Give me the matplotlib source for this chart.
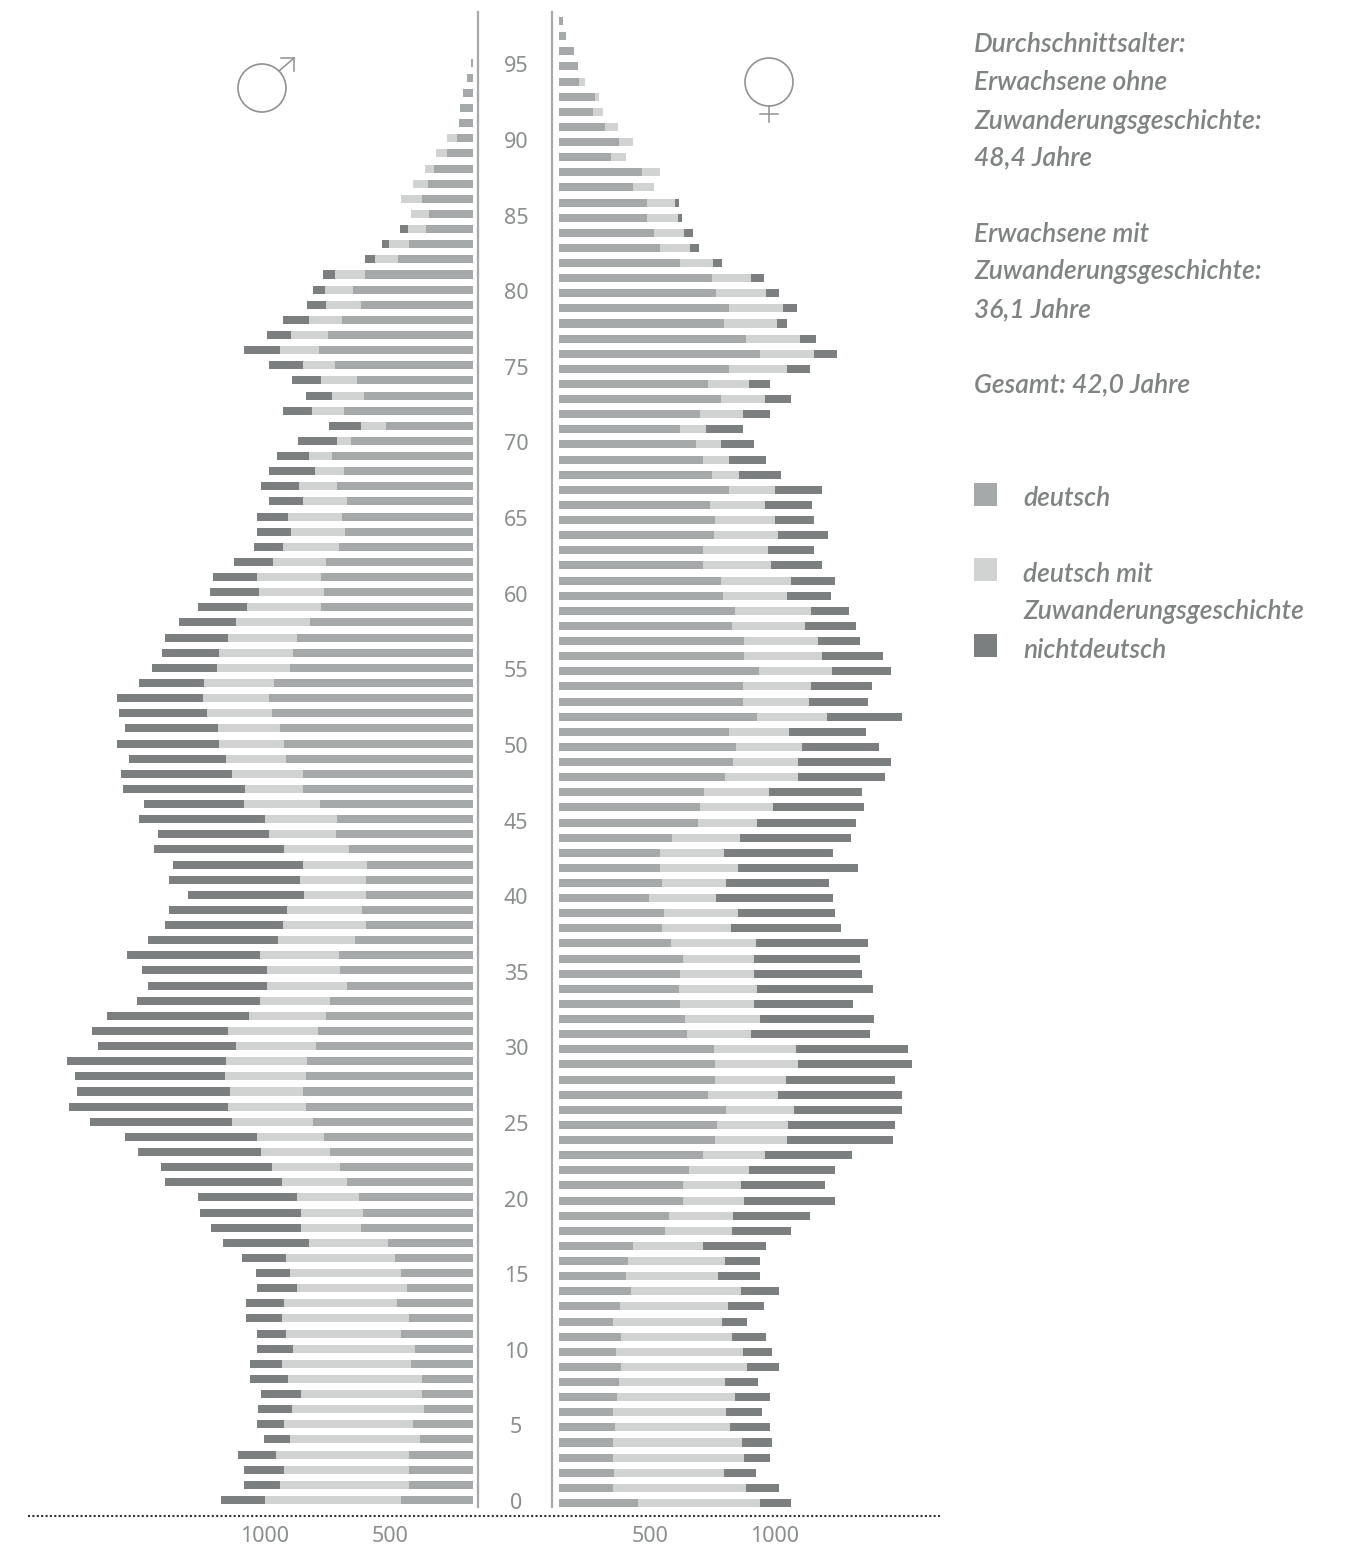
import matplotlib
matplotlib.use("Agg")
import matplotlib.pyplot as plt
from matplotlib.patches import Circle, Rectangle
from matplotlib.transforms import ScaledTranslation

W, H = 1358, 1546
plt.rcParams["font.family"] = ["Noto Sans", "DejaVu Sans"]
NOTE_FONT = ["Lato", "Noto Sans", "DejaVu Sans"]

C_DE, C_ZG, C_ND = "#a6a9a9", "#d1d3d2", "#7c7f7f"
C_TXT = "#808383"
C_TICK = "#8b8e8e"
C_AXIS = "#a6a9a9"

# Men, age 95 down to 0: deutsch / deutsch mit Zuwanderungsgeschichte / nichtdeutsch
male_ages = list(range(95, -1, -1))
male_de = [7, 23, 39, 51, 55, 63, 103, 155, 179, 203, 175, 187, 255, 299, 431, 479,
           447, 523, 579, 615, 551, 463, 435, 515, 347, 487, 563, 515, 543, 503,
           523, 511, 535, 587, 607, 595, 607, 651, 703, 719,
           731, 795, 815, 803, 771, 755, 747, 679, 679, 611,
           543, 547, 495, 423, 427, 427, 443, 427, 471, 535,
           531, 503, 571, 587, 619, 627, 663, 667, 679, 667,
           639, 595, 571, 531, 503, 455, 439, 447, 339, 311,
           287, 263, 303, 255, 287, 231, 247, 203, 203, 195,
           239, 211, 255, 255, 255, 287]
male_zg = [0, 0, 0, 0, 0, 40, 43, 36, 60, 84, 72, 72, 79, 92, 120, 112,
           140, 132, 148, 156, 128, 144, 128, 128, 100, 56, 92, 116, 152, 176,
           216, 216, 224, 212, 256, 260, 296, 296, 276, 296,
           292, 280, 264, 260, 248, 260, 240, 284, 232, 304,
           288, 268, 260, 256, 264, 248, 300, 332, 308, 316,
           292, 320, 280, 308, 360, 320, 324, 324, 292, 312,
           324, 268, 276, 272, 260, 248, 248, 240, 316, 436,
           444, 440, 452, 508, 460, 488, 516, 536, 484, 528,
           516, 520, 532, 500, 516, 544]
male_nd = [0, 0, 0, 0, 0, 0, 0, 0, 0, 0, 0, 32, 27, 41, 48, 49,
           77, 105, 97, 145, 137, 117, 104, 117, 128, 156, 128, 185, 152, 137,
           125, 137, 116, 157, 177, 197, 197, 229, 253, 229,
           261, 261, 345, 353, 373, 409, 389, 445, 489, 401,
           505, 445, 521, 521, 525, 465, 473, 473, 521, 533,
           501, 477, 493, 569, 545, 553, 637, 601, 613, 637,
           569, 529, 493, 445, 469, 397, 405, 361, 345, 177,
           137, 161, 153, 145, 117, 145, 129, 153, 160, 137,
           109, 105, 153, 161, 145, 177]

# Women, age 98 down to 0
female_ages = list(range(98, -1, -1))
female_de = [16, 28, 60, 76, 80, 144, 136, 184, 240, 208, 332, 296, 352, 352, 380, 404,
             484, 612, 628, 680, 660, 748, 804, 680, 596, 648, 564, 484, 548, 576,
             612, 680,
             604, 624, 620, 576, 576, 648, 656, 704, 692, 740,
             740, 800, 736, 736, 792, 680, 708, 696, 664, 580,
             564, 556, 452, 404, 404, 412, 360, 420, 412, 448,
             496, 484, 480, 484, 504, 512, 620, 624, 624, 596,
             668, 632, 624, 576, 520, 496, 496, 440, 424, 296,
             276, 268, 288, 244, 216, 248, 228, 248, 240, 232,
             216, 224, 216, 216, 220, 216, 316]
female_zg = [0, 0, 0, 0, 24, 16, 40, 52, 56, 60, 72, 84, 112, 124, 120, 120,
             132, 156, 200, 216, 212, 216, 216, 232, 164, 176, 172, 104, 100, 104,
             108, 184,
             220, 240, 256, 260, 272, 280, 256, 304, 292, 296,
             312, 292, 272, 264, 280, 240, 264, 260, 292, 260,
             292, 236, 272, 256, 312, 256, 268, 296, 276, 340,
             284, 296, 312, 296, 300, 256, 328, 332, 284, 280,
             272, 284, 288, 248, 240, 232, 244, 256, 268, 280,
             388, 368, 440, 432, 436, 444, 508, 504, 424, 472,
             452, 460, 516, 524, 440, 532, 488]
female_nd = [0, 0, 0, 0, 0, 0, 0, 0, 0, 0, 0, 0, 16, 16, 36, 36,
             36, 52, 52, 56, 40, 64, 92, 92, 84, 104, 108, 148, 132, 148,
             168, 188,
             188, 156, 200, 184, 204, 176, 176, 152, 204, 168,
             244, 236, 244, 236, 300, 308, 308, 372, 348, 372,
             364, 396, 444, 436, 480, 412, 468, 388, 440, 448,
             424, 432, 464, 396, 456, 476, 448, 456, 436, 496,
             432, 428, 424, 348, 344, 336, 364, 308, 236, 252,
             140, 168, 152, 144, 100, 136, 116, 128, 132, 140,
             144, 160, 120, 104, 128, 132, 124]

x_ticks = [500, 1000]
age_ticks = list(range(0, 96, 5))
BASE_L, BASE_R = 170, 135   # where the bars start on each value axis

info_lines = [("Durchschnittsalter:", 45), ("Erwachsene ohne", 83),
              ("Zuwanderungsgeschichte:", 121), ("48,4 Jahre", 158),
              ("Erwachsene mit", 234), ("Zuwanderungsgeschichte:", 272),
              ("36,1 Jahre", 310), ("Gesamt: 42,0 Jahre", 385)]
legend_lines = [("deutsch", 499), ("deutsch mit", 574),
                ("Zuwanderungsgeschichte", 612), ("nichtdeutsch", 650)]
legend_boxes = [(C_DE, 483), (C_ZG, 558), (C_ND, 634)]

fig = plt.figure(figsize=(W / 100, H / 100), dpi=100, facecolor="white")


def px_axes(x0, x1, y0, y1):
    return fig.add_axes([x0 / W, 1 - y1 / H, (x1 - x0) / W, (y1 - y0) / H])


def stacked(ax, ages, a, b, c, base):
    ax.barh(ages, a, left=base, height=0.53, color=C_DE, linewidth=0)
    l2 = [base + v for v in a]
    ax.barh(ages, b, left=l2, height=0.53, color=C_ZG, linewidth=0)
    l3 = [p + v for p, v in zip(l2, b)]
    ax.barh(ages, c, left=l3, height=0.53, color=C_ND, linewidth=0)


ax_l = px_axes(0, 478, 12, 1507)
stacked(ax_l, male_ages, male_de, male_zg, male_nd, BASE_L)
ax_l.set_xlim(2060, 148)
ax_l.set_ylim(-0.463, 98.35)

ax_r = px_axes(552, 960, 12, 1507)
stacked(ax_r, female_ages, female_de, female_zg, female_nd, BASE_R)
ax_r.set_xlim(108, 1740)
ax_r.set_ylim(-0.265, 98.6)

for ax in (ax_l, ax_r):
    ax.patch.set_alpha(0)
    for s in ax.spines.values():
        s.set_visible(False)
    ax.set_xticks(x_ticks)
    ax.tick_params(axis="x", length=0, pad=14, labelsize=15.5, labelcolor=C_TICK)
ax_l.spines["right"].set_visible(True)
ax_l.spines["right"].set_color(C_AXIS)
ax_l.spines["right"].set_linewidth(1.6)
ax_r.spines["left"].set_visible(True)
ax_r.spines["left"].set_color(C_AXIS)
ax_r.spines["left"].set_linewidth(1.6)
ax_l.set_yticks([])
ax_r.set_yticks(age_ticks)
ax_r.tick_params(axis="y", length=0, pad=26, labelsize=15.5, labelcolor=C_TICK)
shift_up = ScaledTranslation(0, 2 / 100, fig.dpi_scale_trans)
for t in ax_r.get_yticklabels():
    t.set_ha("center")
    t.set_transform(t.get_transform() + shift_up)

# Overlay in pixel coordinates for the annotations
ov = fig.add_axes([0, 0, 1, 1])
ov.set_xlim(0, W)
ov.set_ylim(H, 0)
ov.axis("off")
ov.patch.set_alpha(0)

ov.plot([28, 940], [1516, 1516], color="#333333", lw=1.5,
        linestyle=(0, (1, 1.1)), dash_capstyle="butt")

# Male and female signs
SYM = "#8f9292"
ov.add_patch(Circle((262, 88), 24, fill=False, ec=SYM, lw=1.2))
ov.plot([279, 294], [71, 58], color=SYM, lw=1.1)
ov.plot([281, 294, 294], [58, 58, 71], color=SYM, lw=1.1)
ov.add_patch(Circle((769, 82), 24, fill=False, ec=SYM, lw=1.2))
ov.plot([769, 769], [106, 122], color=SYM, lw=1.1)
ov.plot([760, 778], [114, 114], color=SYM, lw=1.1)

for txt, y in info_lines:
    ov.text(974, y, txt, style="italic", family=NOTE_FONT, weight=600,
            fontsize=19, color=C_TXT, va="center", ha="left")
for txt, y in legend_lines:
    ov.text(1023, y, txt, style="italic", family=NOTE_FONT, weight=600,
            fontsize=19, color=C_TXT, va="center", ha="left")
for col, y in legend_boxes:
    ov.add_patch(Rectangle((974, y), 23, 23, fc=col, ec="none"))

fig.savefig("out.png", dpi=100, facecolor="white")
